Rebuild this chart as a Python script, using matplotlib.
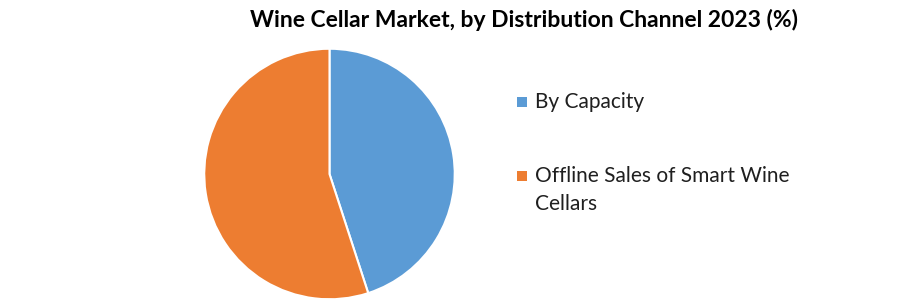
import matplotlib
matplotlib.use("Agg")
import matplotlib.pyplot as plt

categories = ["By Capacity", "Offline Sales of Smart Wine\nCellars"]
values = [45, 55]
colors = ["#5B9BD5", "#ED7D31"]
title = "Wine Cellar Market, by Distribution Channel 2023 (%)"

plt.rcParams['font.family'] = ['Lato', 'DejaVu Sans']

W, H = 905, 304
fig = plt.figure(figsize=(W / 100, H / 100), dpi=100)
fig.patch.set_facecolor("white")

cx, cy, r = 329.5, 174, 126.5
ax = fig.add_axes([(cx - r) / W, (H - cy - r) / H, 2 * r / W, 2 * r / H])
ax.pie(values, colors=colors, startangle=90, counterclock=False,
       wedgeprops=dict(edgecolor="white", linewidth=1.5), radius=1)
ax.set_xlim(-1.01, 1.01)
ax.set_ylim(-1.01, 1.01)
ax.set_aspect("equal")
ax.axis("off")

# overlay axes in pixel coordinates for title and legend
ov = fig.add_axes([0, 0, 1, 1])
ov.set_xlim(0, W)
ov.set_ylim(H, 0)
ov.axis("off")

ov.text(523.5, 27, title, ha="center", va="baseline",
        fontsize=16.5, fontweight="bold", color="black")

legend_y = [101.5, 176]
for lab, col, y in zip(categories, colors, legend_y):
    ov.scatter([521.5], [y], marker="s", s=44, color=col, linewidths=0)
    ov.text(535, y + 6.5, lab.split("\n")[0], ha="left", va="baseline",
            fontsize=15, color="#1f1f1f")
    for k, extra in enumerate(lab.split("\n")[1:], start=1):
        ov.text(535, y + 6.5 + 27.5 * k, extra, ha="left", va="baseline",
                fontsize=15, color="#1f1f1f")

fig.savefig("out.png", dpi=100, facecolor="white")
